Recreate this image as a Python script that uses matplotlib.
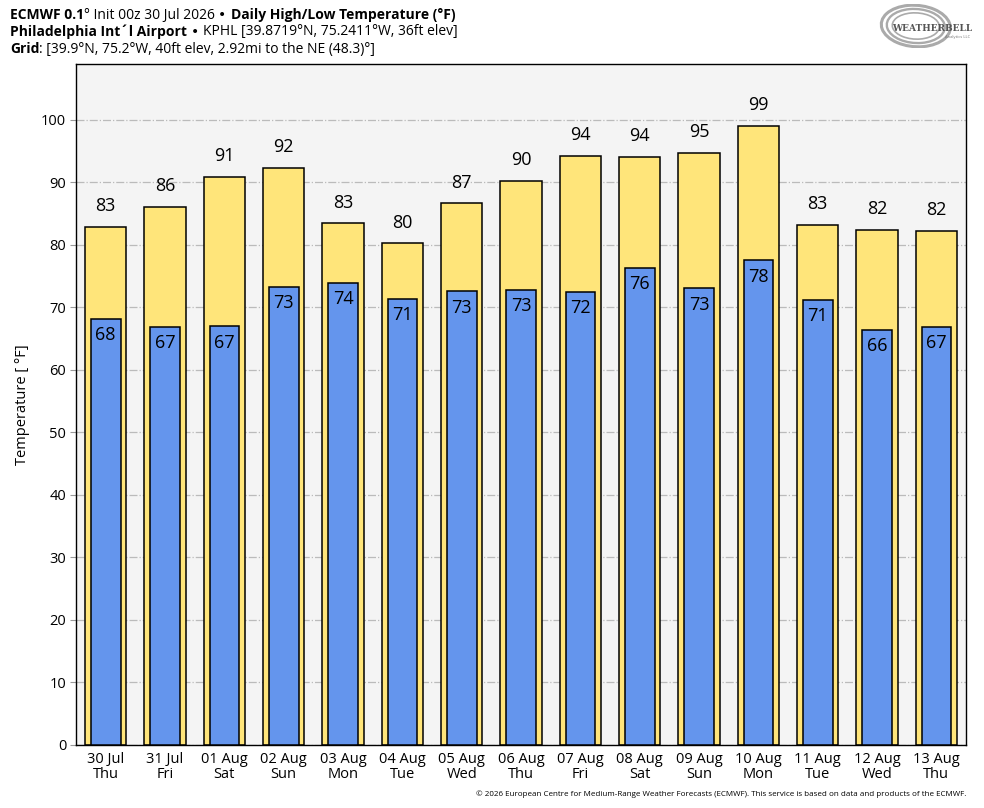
import matplotlib
matplotlib.use("Agg")
import matplotlib.pyplot as plt
from matplotlib.patches import Ellipse
import numpy as np

plt.rcParams['font.family'] = ['Open Sans', 'Noto Sans', 'DejaVu Sans']

dates = ["30 Jul", "31 Jul", "01 Aug", "02 Aug", "03 Aug", "04 Aug", "05 Aug", "06 Aug",
         "07 Aug", "08 Aug", "09 Aug", "10 Aug", "11 Aug", "12 Aug", "13 Aug"]
weekdays = ["Thu", "Fri", "Sat", "Sun", "Mon", "Tue", "Wed", "Thu",
            "Fri", "Sat", "Sun", "Mon", "Tue", "Wed", "Thu"]
highs = [82.8, 86.1, 90.9, 92.3, 83.4, 80.2, 86.6, 90.2, 94.2, 94.1, 94.7, 99.0, 83.2, 82.4, 82.2]
lows = [68.2, 66.9, 67.0, 73.3, 73.9, 71.4, 72.6, 72.8, 72.5, 76.3, 73.0, 77.5, 71.2, 66.4, 66.9]

fig = plt.figure(figsize=(9.84, 8.08), dpi=100)
ax = fig.add_axes([76/984, 1-745/808, (966-76)/984, (745-64)/808])
ax.set_facecolor("#F4F4F4")
x = np.arange(len(dates))

ax.bar(x, highs, width=0.7, color="#FFE57A", edgecolor="black", linewidth=1.1, zorder=2)
ax.bar(x, lows, width=0.5, color="#6495ED", edgecolor="black", linewidth=1.1, zorder=3)

for xi, h in zip(x, highs):
    ax.text(xi, h + 1.9, f"{round(h):d}", ha="center", va="bottom", fontsize=13, zorder=4)
for xi, l in zip(x, lows):
    ax.text(xi, l - 1.2, f"{round(l):d}", ha="center", va="top", fontsize=13, zorder=4)

ax.set_xlim(-0.5, len(dates) - 0.5)
ax.set_ylim(0, max(highs) * 1.1)
ax.set_yticks(np.arange(0, 101, 10))
ax.set_xticks(x)
ax.set_xticklabels([f"{d}\n{w}" for d, w in zip(dates, weekdays)], fontsize=10.5, linespacing=1.05)
ax.tick_params(axis="x", length=0, pad=5)
ax.tick_params(axis="y", direction="out", length=4, color="#999999", labelsize=10.5, pad=3)
ax.yaxis.grid(True, linestyle="-.", color="#BBBBBB", linewidth=0.9, zorder=0)
ax.set_axisbelow(True)
for s in ax.spines.values():
    s.set_linewidth(1.0)
ax.set_ylabel("Temperature [ °F]", fontsize=10.5, labelpad=8)

# Header with mixed weights
renderer = fig.canvas.get_renderer()

def write_line(y, pieces, size=10):
    xpos = 10 / 984
    for txt, w, fam in pieces:
        kw = {} if fam is None else {"family": fam}
        t = fig.text(xpos, y, txt, fontsize=size, fontweight=w, ha="left", va="center", **kw)
        bb = t.get_window_extent(renderer=renderer)
        xpos += bb.width / (fig.dpi * fig.get_figwidth())

write_line(1 - 15/808, [("ECMWF 0.1", "bold", None), ("° Init 00z 30 Jul 2026 ", "normal", None),
                        ("• ", "normal", "DejaVu Sans"),
                        ("Daily High/Low Temperature (°F)", "bold", None)])
write_line(1 - 32/808, [("Philadelphia Int´l Airport ", "bold", None), ("• ", "normal", "DejaVu Sans"),
                        ("KPHL [39.8719°N, 75.2411°W, 36ft elev]", "normal", None)])
write_line(1 - 49/808, [("Grid", "bold", None),
                        (": [39.9°N, 75.2°W, 40ft elev, 2.92mi to the NE (48.3)°]", "normal", None)])

# Logo approximation
lax = fig.add_axes([878/984, 1-48/808, 90/984, 44/808])
lax.set_xlim(0, 1); lax.set_ylim(0, 1); lax.axis("off")
for i, (w, h) in enumerate([(0.95, 0.95), (0.8, 0.78), (0.65, 0.6)]):
    lax.add_patch(Ellipse((0.42, 0.5), w * 0.8, h, angle=10, fill=False,
                          edgecolor="#AAAAAA", linewidth=2.2 - 0.5 * i))
lax.text(0.6, 0.45, "WEATHERBELL", fontsize=6.5, color="#555555", ha="center", va="center",
         fontweight="bold", family="DejaVu Serif")
lax.text(0.88, 0.25, "Analytics LLC", fontsize=3, color="#777777", ha="center", va="center")

fig.text(966/984, 1 - 794/808,
         "© 2026 European Centre for Medium-Range Weather Forecasts (ECMWF). This service is based on data and products of the ECMWF.",
         fontsize=5.8, ha="right", va="center")

fig.savefig("out.png", dpi=100)
